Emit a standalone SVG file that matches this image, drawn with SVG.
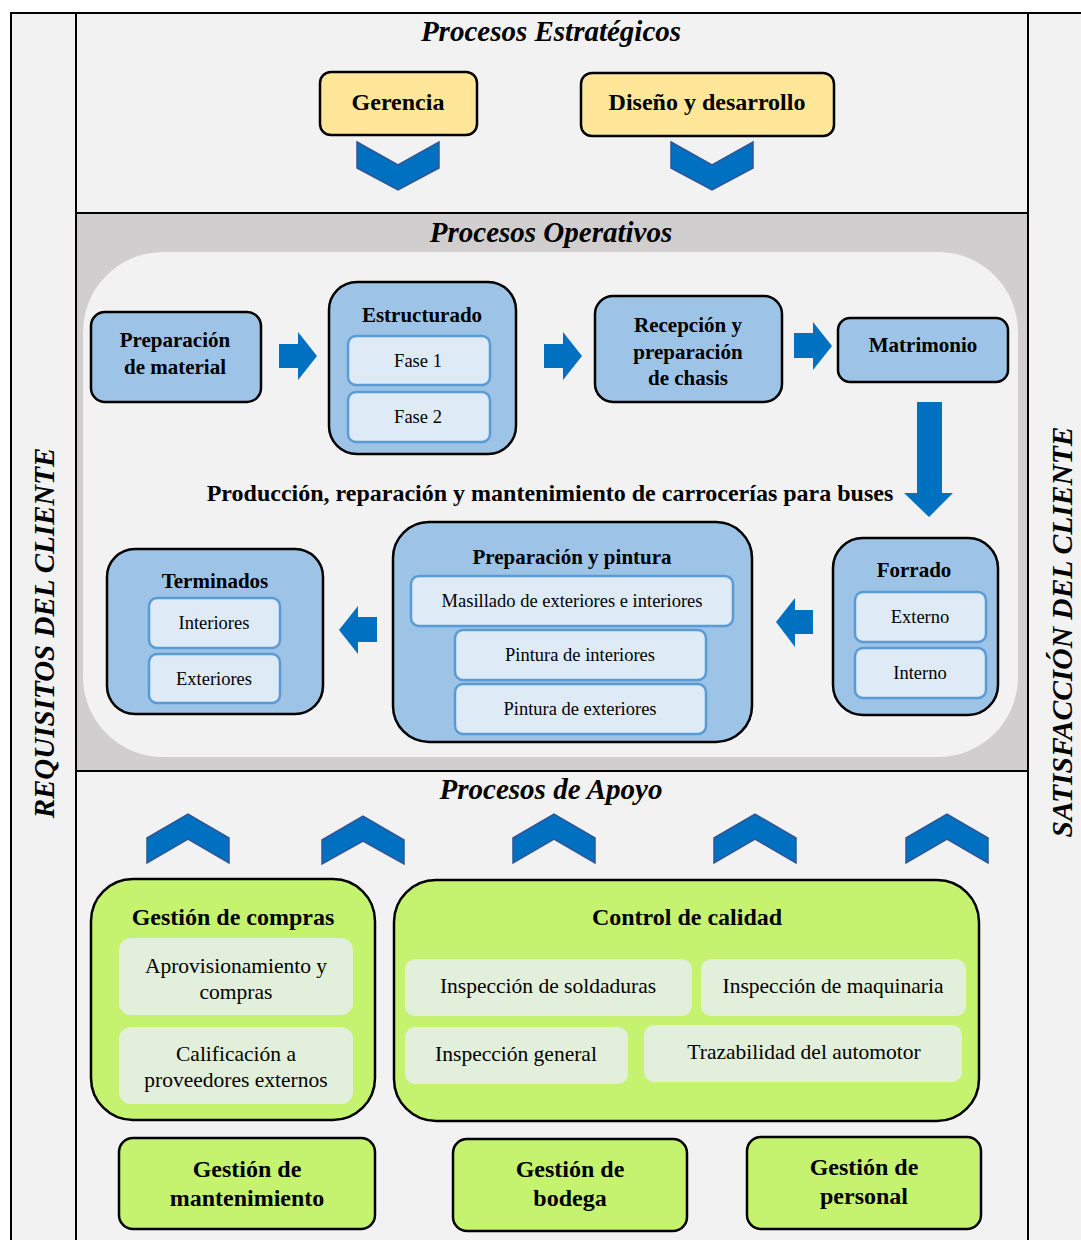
<svg xmlns="http://www.w3.org/2000/svg" width="1081" height="1240" viewBox="0 0 1081 1240">
<defs>
<style>
.t{font-family:"Liberation Serif","Times New Roman",serif;fill:#000;text-anchor:middle}
.b{font-weight:bold}
.h{font-weight:bold;font-style:italic;font-size:29px}
.strat{fill:#ffe699;stroke:#000;stroke-width:2.5}
.op{fill:#9dc3e6;stroke:#000;stroke-width:2.5}
.sub{fill:#deebf7;stroke:#5b9bd5;stroke-width:2.5}
.gr{fill:#c6f36f;stroke:#000;stroke-width:2.5}
.gsub{fill:#e2efda;stroke:none}
.chev{fill:#0070c0;stroke:#2f5597;stroke-width:1.5}
.arr{fill:#0070c0;stroke:none}
.f24{font-size:24px}
.f21{font-size:21px}
.f18{font-size:18.5px}
.f215{font-size:21.5px}
</style>
</defs>
<rect x="0" y="0" width="1081" height="1240" fill="#fff"/>
<g id="frame">
<rect x="11" y="13" width="1080" height="1240" fill="#f2f2f2" stroke="#000" stroke-width="2"/>
<rect x="76" y="213" width="952" height="558" fill="#d0cece"/>
<rect x="83" y="252" width="935" height="505" rx="80" fill="#f2f2f2"/>
<line x1="76" y1="13" x2="76" y2="1240" stroke="#000" stroke-width="2"/>
<line x1="1028" y1="13" x2="1028" y2="1240" stroke="#000" stroke-width="2"/>
<line x1="76" y1="213" x2="1028" y2="213" stroke="#000" stroke-width="2"/>
<line x1="76" y1="771" x2="1028" y2="771" stroke="#000" stroke-width="2"/>
<text class="t h" x="551" y="41">Procesos Estratégicos</text>
<text class="t h" x="551" y="242">Procesos Operativos</text>
<text class="t h" x="551" y="799">Procesos de Apoyo</text>
<text class="t h" transform="translate(54,633) rotate(-90)">REQUISITOS DEL CLIENTE</text>
<text class="t h" style="font-size:29.5px" transform="translate(1072,632) rotate(-90)">SATISFACCIÓN DEL CLIENTE</text>
<text class="t b" style="font-size:24px" x="550" y="501">Producción, reparación y mantenimiento de carrocerías para buses</text>
</g>
<g id="gerencia">
<rect class="strat" x="320" y="72" width="157" height="63" rx="11"/>
<text class="t b f24" x="398" y="110">Gerencia</text>
</g>
<g id="diseno">
<rect class="strat" x="581" y="73" width="253" height="63" rx="11"/>
<text class="t b f24" x="707" y="110">Diseño y desarrollo</text>
</g>
<g id="prep-material">
<rect class="op" x="91" y="312" width="170" height="90" rx="14"/>
<text class="t b f21" x="175" y="347">Preparación</text>
<text class="t b f21" x="175" y="374">de material</text>
</g>
<g id="estructurado">
<rect class="op" x="329" y="282" width="187" height="172" rx="28"/>
<text class="t b f21" x="422" y="322">Estructurado</text>
<rect class="sub" x="348" y="336" width="142" height="49" rx="8"/>
<text class="t f18" x="418" y="367">Fase 1</text>
<rect class="sub" x="348" y="392" width="142" height="50" rx="8"/>
<text class="t f18" x="418" y="423">Fase 2</text>
</g>
<g id="recepcion">
<rect class="op" x="595" y="296" width="187" height="106" rx="18"/>
<text class="t b f21" x="688" y="332">Recepción y</text>
<text class="t b f21" x="688" y="359">preparación</text>
<text class="t b f21" x="688" y="385">de chasis</text>
</g>
<g id="matrimonio">
<rect class="op" x="838" y="318" width="170" height="64" rx="12"/>
<text class="t b f21" x="923" y="352">Matrimonio</text>
</g>
<g id="forrado">
<rect class="op" x="833" y="538" width="165" height="177" rx="30"/>
<text class="t b f21" x="914" y="577">Forrado</text>
<rect class="sub" x="855" y="592" width="131" height="50" rx="8"/>
<text class="t f18" x="920" y="623">Externo</text>
<rect class="sub" x="855" y="648" width="131" height="50" rx="8"/>
<text class="t f18" x="920" y="679">Interno</text>
</g>
<g id="prep-pintura">
<rect class="op" x="393" y="522" width="359" height="220" rx="36"/>
<text class="t b f21" x="572" y="564">Preparación y pintura</text>
<rect class="sub" x="411" y="576" width="322" height="50" rx="8"/>
<text class="t f18" x="572" y="607">Masillado de exteriores e interiores</text>
<rect class="sub" x="455" y="630" width="251" height="50" rx="8"/>
<text class="t f18" x="580" y="661">Pintura de interiores</text>
<rect class="sub" x="455" y="684" width="251" height="50" rx="8"/>
<text class="t f18" x="580" y="715">Pintura de exteriores</text>
</g>
<g id="terminados">
<rect class="op" x="107" y="549" width="216" height="165" rx="28"/>
<text class="t b f21" x="215" y="588">Terminados</text>
<rect class="sub" x="149" y="598" width="131" height="50" rx="8"/>
<text class="t f18" x="214" y="629">Interiores</text>
<rect class="sub" x="149" y="654" width="131" height="49" rx="8"/>
<text class="t f18" x="214" y="685">Exteriores</text>
</g>
<g id="compras">
<rect class="gr" x="91" y="879" width="284" height="241" rx="42"/>
<text class="t b f24" x="233" y="925">Gestión de compras</text>
<rect class="gsub" x="119" y="938" width="234" height="77" rx="12"/>
<text class="t f215" x="236" y="973">Aprovisionamiento y</text>
<text class="t f215" x="236" y="999">compras</text>
<rect class="gsub" x="119" y="1027" width="234" height="77" rx="12"/>
<text class="t f215" x="236" y="1061">Calificación a</text>
<text class="t f215" x="236" y="1087">proveedores externos</text>
</g>
<g id="calidad">
<rect class="gr" x="394" y="880" width="585" height="241" rx="42"/>
<text class="t b f24" x="687" y="925">Control de calidad</text>
<rect class="gsub" x="405" y="959" width="287" height="57" rx="10"/>
<text class="t f215" x="548" y="993">Inspección de soldaduras</text>
<rect class="gsub" x="701" y="959" width="265" height="57" rx="10"/>
<text class="t f215" x="833" y="993">Inspección de maquinaria</text>
<rect class="gsub" x="405" y="1027" width="223" height="57" rx="10"/>
<text class="t f215" x="516" y="1061">Inspección general</text>
<rect class="gsub" x="644" y="1025" width="318" height="57" rx="10"/>
<text class="t f215" x="804" y="1059">Trazabilidad del automotor</text>
</g>
<g id="mantenimiento">
<rect class="gr" x="119" y="1138" width="256" height="91" rx="14"/>
<text class="t b f24" x="247" y="1177">Gestión de</text>
<text class="t b f24" x="247" y="1206">mantenimiento</text>
</g>
<g id="bodega">
<rect class="gr" x="453" y="1139" width="234" height="92" rx="14"/>
<text class="t b f24" x="570" y="1177">Gestión de</text>
<text class="t b f24" x="570" y="1206">bodega</text>
</g>
<g id="personal">
<rect class="gr" x="747" y="1137" width="234" height="92" rx="14"/>
<text class="t b f24" x="864" y="1175">Gestión de</text>
<text class="t b f24" x="864" y="1204">personal</text>
</g>
<g id="connectors">
<polygon class="chev" points="357,142 398,165 439,142 439,168 398,190 357,168"/>
<polygon class="chev" points="671,142 712,165 753,142 753,168 712,190 671,168"/>
<polygon class="arr" points="279,344 298,344 298,332 317,356 298,380 298,368 279,368"/>
<polygon class="arr" points="544,344 563,344 563,332 582,356 563,380 563,368 544,368"/>
<polygon class="arr" points="794,333 813,333 813,322 832,346 813,370 813,358 794,358"/>
<polygon class="arr" points="917,402 942,402 942,493 953,493 929,517 904,493 917,493"/>
<polygon class="arr" points="813,610 795,610 795,598 776,622 795,647 795,634 813,634"/>
<polygon class="arr" points="377,617 358,617 358,606 339,630 358,654 358,642 377,642"/>
<polygon class="chev" points="147,838 188,814 229,838 229,863 188,839 147,863"/>
<polygon class="chev" points="322,840 363,816 404,840 404,864 363,841 322,864"/>
<polygon class="chev" points="513,838 554,814 595,838 595,863 554,839 513,863"/>
<polygon class="chev" points="714,838 755,814 796,838 796,863 755,839 714,863"/>
<polygon class="chev" points="906,838 947,814 988,838 988,863 947,839 906,863"/>
</g>
</svg>
